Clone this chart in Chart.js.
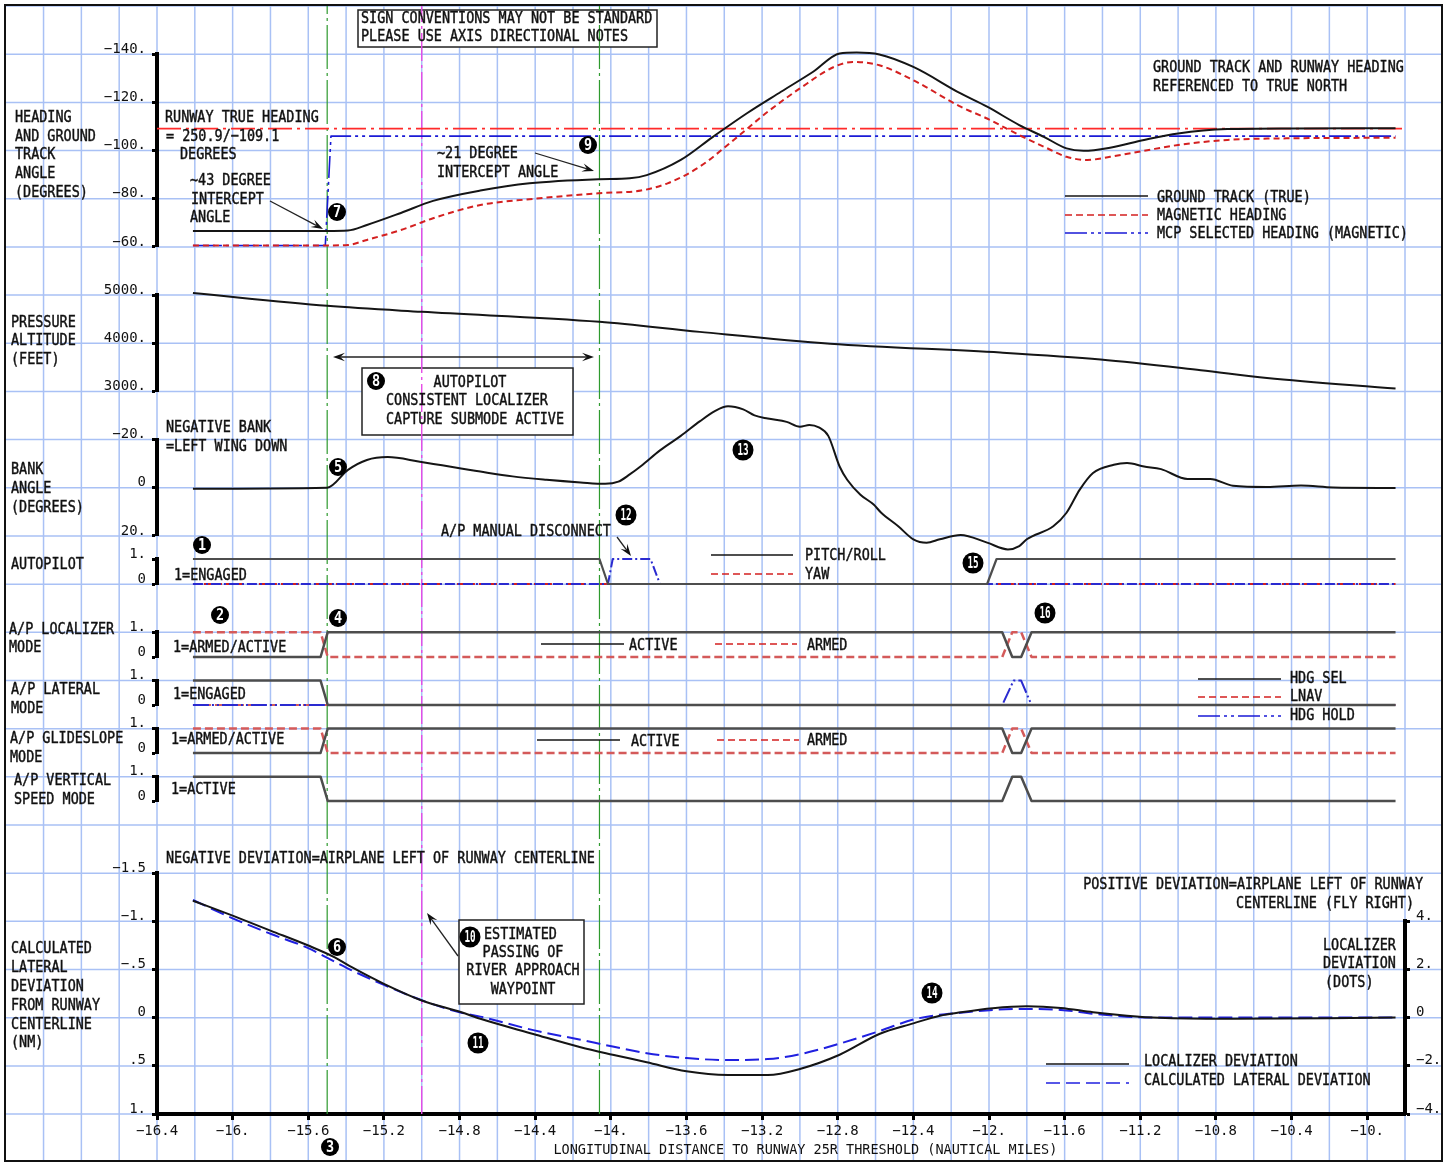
<!DOCTYPE html>
<html>
<head>
<meta charset="utf-8">
<title>Approach parameters vs distance to runway 25R</title>
<script src="https://cdn.jsdelivr.net/npm/chart.js@4.4.1/dist/chart.umd.min.js"></script>
<style>
  html, body { margin: 0; padding: 0; background: #fff; }
  #wrap { width: 1448px; height: 1162px; }
</style>
</head>
<body>
<div id="wrap"><canvas id="chart" width="1448" height="1162"></canvas></div>
<script>
// --- tick labels ---
const xTicks = [-16.4, -16, -15.6, -15.2, -14.8, -14.4, -14, -13.6, -13.2, -12.8, -12.4, -12, -11.6, -11.2, -10.8, -10.4, -10];
const hdgTicks = [-140, -120, -100, -80, -60];
const altTicks = [5000, 4000, 3000];
const bankTicks = [-20, 0, 20];
const modeTicks = [1, 0];
const devTicks = [-1.5, -1, -0.5, 0, 0.5, 1];
const dotTicks = [4, 2, 0, -2, -4];

// --- heading panel (degrees) ---
const trackX = [-16.21, -15.5, -15.39, -15.29, -15.11, -14.94, -14.69, -14.43, -14.06, -13.9, -13.81, -13.63, -13.46, -13.28, -13.1, -12.93, -12.79, -12.7, -12.58, -12.4, -12.15, -12.01, -11.84, -11.71, -11.59, -11.5, -11.36, -11.18, -11.0, -10.74, -10.39, -9.85];
const trackDeg = [-66.6, -66.6, -66.8, -69.1, -74.1, -79.1, -83.4, -86.4, -88.1, -88.5, -89.8, -96.1, -105.7, -115.5, -124.4, -132.7, -140.3, -140.7, -139.9, -134.7, -123.7, -118.2, -110.6, -105.7, -100.9, -99.9, -101.2, -104.4, -107.1, -108.9, -109.2, -109.3];
const magX = [-16.21, -15.5, -15.39, -15.29, -15.11, -14.94, -14.69, -14.43, -14.06, -13.84, -13.7, -13.53, -13.35, -13.17, -13.0, -12.82, -12.72, -12.58, -12.4, -12.15, -12.01, -11.84, -11.71, -11.59, -11.48, -11.36, -11.18, -11.0, -10.74, -10.39, -9.85];
const magDeg = [-60.6, -60.6, -60.8, -62.9, -67.0, -71.9, -77.4, -79.8, -82.3, -83.4, -86.4, -93.3, -104.4, -116.1, -125.8, -134.7, -136.8, -135.4, -129.2, -118.2, -113.3, -106.4, -101.6, -97.4, -96.1, -97.4, -99.9, -102.3, -104.4, -105.1, -105.3];
const mcpX = [-16.21, -15.51, -15.48, -9.85];
const mcpDeg = [-60.6, -60.6, -106, -106];
const rwyX = [-16.4, -9.8];
const rwyDeg = [-109.1, -109.1];

// --- pressure altitude (feet) ---
const altX = [-16.21, -15.5, -15.0, -14.06, -13.53, -12.84, -11.94, -11.41, -10.88, -10.53, -9.85];
const altFt = [5040, 4775, 4650, 4445, 4235, 3990, 3805, 3660, 3440, 3280, 3060];

// --- bank angle (degrees, negative = left wing down) ---
const bankX = [-16.21, -15.5, -15.39, -15.29, -15.18, -15.01, -14.69, -14.52, -14.34, -14.16, -14.03, -13.96, -13.9, -13.84, -13.74, -13.63, -13.53, -13.45, -13.38, -13.3, -13.24, -13.17, -13.07, -13.0, -12.95, -12.9, -12.85, -12.79, -12.75, -12.68, -12.61, -12.57, -12.48, -12.4, -12.33, -12.26, -12.15, -12.01, -11.9, -11.84, -11.8, -11.66, -11.59, -11.52, -11.45, -11.34, -11.27, -11.18, -11.09, -10.95, -10.83, -10.71, -10.53, -10.35, -10.18, -9.85];
const bankDeg = [0.4, 0, -7.4, -11.5, -12.7, -10.8, -6.7, -4.7, -3.3, -2.2, -1.6, -2.5, -5.5, -9, -15.5, -21.5, -27.5, -31.8, -33.8, -32.5, -30, -28.7, -27.3, -25.3, -26.0, -25.0, -21.5, -8.8, -3.3, 2.9, 7.0, 10.4, 16.0, 21.4, 22.8, 21.4, 19.6, 22.8, 25.6, 24.2, 21.4, 16.0, 10.4, 0.8, -6.1, -9.5, -10.2, -8.8, -7.7, -3.6, -3.6, -0.8, -0.3, -0.9, -0.1, 0.1];

// --- autopilot / mode discretes (0 or 1) ---
const apX = [-16.21, -14.06, -14.015, -12.01, -11.96, -9.85];
const apPitchRoll = [1, 1, 0, 0, 1, 1];
const yawX = [-16.21, -9.85];
const yawVal = [0, 0];
const apBlueX = [-16.21, -14.015, -13.99, -13.79, -13.74, -9.85];
const apBlueVal = [0, 0, 1, 1, 0, 0];

const modeX = [-16.21, -15.535, -15.497, -11.93, -11.877, -11.83, -11.775, -9.85];
const locActive = [0, 0, 1, 1, 0, 0, 1, 1];
const locArmed = [1, 1, 0, 0, 1, 1, 0, 0];
const gsActive = [0, 0, 1, 1, 0, 0, 1, 1];
const gsArmed = [1, 1, 0, 0, 1, 1, 0, 0];
const vsActive = [1, 1, 0, 0, 1, 1, 0, 0];

const hdgSelX = [-16.21, -15.535, -15.497, -9.85];
const hdgSelVal = [1, 1, 0, 0];
const lnavX = [-16.21, -9.85];
const lnavVal = [0, 0];
const hdgHoldX = [-16.21, -11.93, -11.87, -11.83, -11.775, -9.85];
const hdgHoldVal = [0, 0, 1, 1, 0, 0];

// --- lateral deviation ---
const devX = [-16.21, -16.0, -15.8, -15.6, -15.46, -15.37, -15.2, -15.0, -14.79, -14.69, -14.41, -14.16, -13.99, -13.81, -13.6, -13.38, -13.17, -13.0, -12.79, -12.58, -12.4, -12.26, -12.15, -11.98, -11.8, -11.62, -11.45, -11.27, -11.1, -10.74, -10.21, -9.85];
const locDots = [4.85, 4.23, 3.61, 2.99, 2.5, 2.09, 1.4, 0.71, 0.22, -0.05, -0.68, -1.23, -1.54, -1.85, -2.23, -2.38, -2.38, -2.13, -1.54, -0.68, -0.24, 0.08, 0.22, 0.39, 0.47, 0.4, 0.22, 0.08, -0.01, -0.05, -0.03, 0];
const calcNm = [-1.22, -1.03, -0.87, -0.72, -0.58, -0.49, -0.34, -0.18, -0.05, -0.01, 0.13, 0.23, 0.3, 0.37, 0.42, 0.44, 0.43, 0.38, 0.27, 0.14, 0.02, -0.03, -0.05, -0.08, -0.09, -0.08, -0.04, -0.01, 0, 0, 0, 0];

// --- event markers (distance, nm) ---
const markX = [-15.5, -15.0, -14.06];

const FONT = '"DejaVu Sans Mono", "Liberation Mono", monospace';
const INK = '#111';
const GREY = '#4d4d4d';
const MODE_RED = '#d45a5a';

function fmt(v) {
    if (v === 0) return '0';
    const s = Number.isInteger(v) ? String(v) + '.' : String(v).replace(/^(-?)0\./, '$1.');
    return s.replace('-', '\u2212');
}

function pts(xs, ys) {
    return xs.map((x, i) => ({ x, y: ys[i] }));
}

function series(label, xs, ys, yAxisID, color, width, dash, smooth) {
    return {
        label, data: pts(xs, ys), yAxisID,
        borderColor: color, borderWidth: width, borderDash: dash || [],
        pointRadius: 0, fill: false, clip: false, tension: 0,
        cubicInterpolationMode: smooth ? 'monotone' : 'default',
        borderJoinStyle: 'round'
    };
}

const datasets = [
    series('Ground track (true)', trackX, trackDeg, 'yHdg', '#151515', 2, null, true),
    series('Magnetic heading', magX, magDeg, 'yHdg', '#d42020', 2, [6, 4], true),
    series('MCP selected heading (magnetic)', mcpX, mcpDeg, 'yHdg', '#1a1ad6', 1.6, [22, 4, 3, 4, 3, 4]),
    series('Runway true heading', rwyX, rwyDeg, 'yHdg', '#ff2a2a', 1.6, [24, 5, 3, 5]),
    series('Pressure altitude', altX, altFt, 'yAlt', '#151515', 2, null, true),
    series('Bank angle', bankX, bankDeg, 'yBank', '#151515', 2, null, true),
    series('Pitch/roll', apX, apPitchRoll, 'yAp', GREY, 2.2),
    series('AP blue', apBlueX, apBlueVal, 'yAp', '#2a2ad0', 2, [10, 3, 2, 3]),
    series('Yaw', yawX, yawVal, 'yAp', '#d42020', 2, [7, 4]),
    series('Localizer active', modeX, locActive, 'yLoc', GREY, 2.5),
    series('Localizer armed', modeX, locArmed, 'yLoc', MODE_RED, 2.5, [8, 4]),
    series('HDG SEL', hdgSelX, hdgSelVal, 'yLat', GREY, 2.5),
    series('HDG HOLD', hdgHoldX, hdgHoldVal, 'yLat', '#2a2ad0', 2, [16, 3, 2, 3, 2, 3]),
    series('LNAV', lnavX, lnavVal, 'yLat', MODE_RED, 2, [7, 4]),
    series('Glideslope active', modeX, gsActive, 'yGs', GREY, 2.5),
    series('Glideslope armed', modeX, gsArmed, 'yGs', MODE_RED, 2.5, [8, 4]),
    series('Vertical speed', modeX, vsActive, 'yVs', GREY, 2.5),
    series('Localizer deviation', devX, locDots, 'yDots', '#151515', 2, null, true),
    series('Calculated lateral deviation', devX, calcNm, 'yDev', '#2020e0', 2, [14, 6], true),
    series('marker A', [markX[0], markX[0]], [0, 1], 'yFull', '#2e9a2e', 1.2, [44, 4, 3, 4]),
    series('marker B', [markX[1], markX[1]], [0, 1], 'yFull', '#e64ce6', 1.4, [28, 4, 3, 4]),
    series('marker C', [markX[2], markX[2]], [0, 1], 'yFull', '#2e9a2e', 1.2, [44, 4, 3, 4])
];

// --- axes: one stacked scale per panel, spacers fill the gaps ---
let order = 40;
function spacer(h, side) {
    return { axis: 'y', type: 'linear', display: false, position: side || 'left', stack: side || 'left',
             stackWeight: h, weight: side === 'right' ? 0 : order--, min: 0, max: 1 };
}
function panel(h, tickList, min, max, reverse, side) {
    const pos = side || 'left';
    return {
        axis: 'y', type: 'linear', position: pos, stack: pos, stackWeight: h,
        weight: pos === 'right' ? 1 : order--,
        min, max, reverse,
        afterBuildTicks: s => { s.ticks = tickList.map(v => ({ value: v })); },
        afterFit: s => { s.width = pos === 'left' ? 152 : 43; s.paddingTop = 0; s.paddingBottom = 0; },
        grid: { display: true, drawOnChartArea: false, tickLength: 5, tickWidth: 3, tickColor: '#000' },
        border: { display: true, width: 4, color: '#000' },
        ticks: { autoSkip: false, padding: 6, labelOffset: -5, color: INK,
                 font: { family: FONT, size: 14 }, callback: v => fmt(v) }
    };
}

const scales = {
    x: {
        type: 'linear', min: -16.4, max: -9.8,
        afterBuildTicks: s => { s.ticks = xTicks.map(v => ({ value: v })); },
        afterFit: s => { s.height = 48; s.paddingLeft = 0; s.paddingRight = 0; },
        grid: { display: true, drawOnChartArea: false, tickLength: 6, tickWidth: 3, tickColor: '#000' },
        border: { display: true, width: 4, color: '#000' },
        ticks: { autoSkip: false, maxRotation: 0, padding: 3, color: INK,
                 font: { family: FONT, size: 14 }, callback: v => fmt(v) },
        title: { display: true, color: INK, font: { family: FONT, size: 13.5 }, padding: { top: 0, bottom: 3 },
                 text: '\u00a0\u00a0\u00a0\u00a0\u00a0\u00a0LONGITUDINAL DISTANCE TO RUNWAY 25R THRESHOLD (NAUTICAL MILES)' }
    }
};
scales.s0 = spacer(48.2);
scales.yHdg = panel(192.7, hdgTicks, -140, -60, true);
scales.s1 = spacer(48.1);
scales.yAlt = panel(96.4, altTicks, 3000, 5000, false);
scales.s2 = spacer(48.1);
scales.yBank = panel(96.4, bankTicks, -20, 20, true);
scales.s3 = spacer(23.1);
scales.yAp = panel(25, modeTicks, 0, 1, false);
scales.s4 = spacer(48.2);
scales.yLoc = panel(24.8, modeTicks, 0, 1, false);
scales.s5 = spacer(23.6);
scales.yLat = panel(24.4, modeTicks, 0, 1, false);
scales.s6 = spacer(23.5);
scales.yGs = panel(24.5, modeTicks, 0, 1, false);
scales.s7 = spacer(23.7);
scales.yVs = panel(24.3, modeTicks, 0, 1, false);
scales.s8 = spacer(72);
scales.yDev = panel(241, devTicks, -1.5, 1, true);
scales.r0 = spacer(915.2, 'right');
scales.yDots = panel(192.8, dotTicks, -4, 4, false, 'right');
scales.yFull = { axis: 'y', type: 'linear', display: false, position: 'left', weight: -1, min: 0, max: 1 };

// --- drawing helpers for the notes ---
function say(ctx, str, x, y, align) {
    ctx.save();
    ctx.font = '16px ' + FONT;
    ctx.fillStyle = INK;
    ctx.strokeStyle = INK;
    ctx.lineWidth = 0.45;
    ctx.textBaseline = 'middle';
    ctx.textAlign = align || 'left';
    ctx.translate(x, y);
    ctx.scale(0.84, 1);
    ctx.fillText(str, 0, 0);
    ctx.strokeText(str, 0, 0);
    ctx.restore();
}

function badge(ctx, n, x, y) {
    const two = n > 9;
    ctx.save();
    ctx.fillStyle = '#000';
    ctx.beginPath();
    ctx.ellipse(x, y, two ? 10.5 : 9, two ? 10.5 : 9, 0, 0, Math.PI * 2);
    ctx.fill();
    ctx.fillStyle = '#fff';
    ctx.font = 'bold 15px ' + FONT;
    ctx.textAlign = 'center';
    ctx.textBaseline = 'middle';
    ctx.translate(x, y + 1);
    ctx.scale(two ? 0.62 : 0.9, 1);
    ctx.fillText(String(n), 0, 0);
    ctx.restore();
}

function arrow(ctx, x1, y1, x2, y2, size) {
    const a = Math.atan2(y2 - y1, x2 - x1);
    const s = size || 12;
    const c = Math.cos(a), sn = Math.sin(a);
    ctx.save();
    ctx.strokeStyle = '#222';
    ctx.fillStyle = '#111';
    ctx.lineWidth = 1.3;
    ctx.beginPath();
    ctx.moveTo(x1, y1);
    ctx.lineTo(x2 - s * 0.6 * c, y2 - s * 0.6 * sn);
    ctx.stroke();
    ctx.beginPath();
    ctx.moveTo(x2, y2);
    ctx.lineTo(x2 - s * c + s * 0.35 * sn, y2 - s * sn - s * 0.35 * c);
    ctx.lineTo(x2 - s * 0.6 * c, y2 - s * 0.6 * sn);
    ctx.lineTo(x2 - s * c - s * 0.35 * sn, y2 - s * sn + s * 0.35 * c);
    ctx.closePath();
    ctx.fill();
    ctx.restore();
}

function sample(ctx, x1, x2, y, color, dash, w) {
    ctx.save();
    ctx.strokeStyle = color;
    ctx.lineWidth = w || 1.5;
    ctx.setLineDash(dash || []);
    ctx.beginPath();
    ctx.moveTo(x1, y);
    ctx.lineTo(x2, y);
    ctx.stroke();
    ctx.restore();
}

function box(ctx, x, y, w, h) {
    ctx.save();
    ctx.fillStyle = '#fff';
    ctx.fillRect(x, y, w, h);
    ctx.strokeStyle = '#222';
    ctx.lineWidth = 1.5;
    ctx.strokeRect(x, y, w, h);
    ctx.restore();
}

const notes = [
    ['HEADING', 15, 118], ['AND GROUND', 15, 137], ['TRACK', 15, 155], ['ANGLE', 15, 174], ['(DEGREES)', 15, 193],
    ['PRESSURE', 11, 323], ['ALTITUDE', 11, 341], ['(FEET)', 11, 360],
    ['BANK', 11, 470], ['ANGLE', 11, 489], ['(DEGREES)', 11, 508],
    ['AUTOPILOT', 11, 565],
    ['A/P LOCALIZER', 9, 630], ['MODE', 9, 648],
    ['A/P LATERAL', 11, 690], ['MODE', 11, 709],
    ['A/P GLIDESLOPE', 10, 739], ['MODE', 10, 758],
    ['A/P VERTICAL', 14, 781], ['SPEED MODE', 14, 800],
    ['CALCULATED', 11, 949], ['LATERAL', 11, 968], ['DEVIATION', 11, 987], ['FROM RUNWAY', 11, 1006], ['CENTERLINE', 11, 1025], ['(NM)', 11, 1043],
    ['RUNWAY TRUE HEADING', 165, 118], ['= 250.9/\u2212109.1', 166, 137], ['DEGREES', 180, 155],
    ['~43 DEGREE', 190, 181], ['INTERCEPT', 191, 200], ['ANGLE', 190, 218],
    ['~21 DEGREE', 437, 154], ['INTERCEPT ANGLE', 437, 173],
    ['SIGN CONVENTIONS MAY NOT BE STANDARD', 361, 19], ['PLEASE USE AXIS DIRECTIONAL NOTES', 361, 37],
    ['GROUND TRACK AND RUNWAY HEADING', 1153, 68], ['REFERENCED TO TRUE NORTH', 1153, 87],
    ['GROUND TRACK (TRUE)', 1157, 198], ['MAGNETIC HEADING', 1157, 216], ['MCP SELECTED HEADING (MAGNETIC)', 1157, 234],
    ['AUTOPILOT', 470, 383, 'center'], ['CONSISTENT LOCALIZER', 386, 401], ['CAPTURE SUBMODE ACTIVE', 386, 420],
    ['NEGATIVE BANK', 166, 428], ['=LEFT WING DOWN', 166, 447],
    ['A/P MANUAL DISCONNECT', 441, 532],
    ['1=ENGAGED', 174, 576], ['PITCH/ROLL', 805, 556], ['YAW', 805, 575],
    ['1=ARMED/ACTIVE', 173, 648], ['ACTIVE', 629, 646], ['ARMED', 807, 646],
    ['1=ENGAGED', 173, 695], ['HDG SEL', 1290, 679], ['LNAV', 1290, 697], ['HDG HOLD', 1290, 716],
    ['1=ARMED/ACTIVE', 171, 740], ['ACTIVE', 631, 742], ['ARMED', 807, 741],
    ['1=ACTIVE', 171, 790],
    ['NEGATIVE DEVIATION=AIRPLANE LEFT OF RUNWAY CENTERLINE', 166, 859],
    ['POSITIVE DEVIATION=AIRPLANE LEFT OF RUNWAY', 1423, 885, 'right'], ['CENTERLINE (FLY RIGHT)', 1414, 904, 'right'],
    ['LOCALIZER', 1323, 946], ['DEVIATION', 1323, 964], ['(DOTS)', 1325, 983],
    ['LOCALIZER DEVIATION', 1144, 1062], ['CALCULATED LATERAL DEVIATION', 1144, 1081],
    ['ESTIMATED', 484, 935], ['PASSING OF', 523, 953, 'center'], ['RIVER APPROACH', 523, 971, 'center'], ['WAYPOINT', 523, 990, 'center']
];

const badges = [[1, 202, 545], [2, 220, 615], [3, 330, 1147], [4, 338, 618], [5, 338, 467], [6, 337, 947],
    [7, 337, 212], [8, 376, 381], [9, 588, 145], [10, 470, 937], [11, 478, 1043], [12, 626, 515],
    [13, 743, 450], [14, 932, 993], [15, 973, 563], [16, 1045, 613]];

const decor = {
    id: 'decor',
    beforeDraw(chart) {
        const { ctx } = chart;
        const x = chart.scales.x, yHdg = chart.scales.yHdg;
        ctx.save();
        ctx.fillStyle = '#fff';
        ctx.fillRect(0, 0, chart.width, chart.height);
        // graph-paper grid over the whole sheet
        ctx.strokeStyle = '#a9c1f5';
        ctx.lineWidth = 1.5;
        const y0 = yHdg.getPixelForValue(hdgTicks[0]);
        const step = yHdg.getPixelForValue(hdgTicks[1]) - y0;
        for (let k = -1; k <= 23; k++) {
            const y = y0 + k * step;
            if (y < 5 || y > 1161) continue;
            ctx.beginPath(); ctx.moveTo(5, y); ctx.lineTo(1442, y); ctx.stroke();
        }
        for (let k = 0; k <= 36; k++) {
            const px = x.getPixelForValue(-17 + k * 0.2);
            ctx.beginPath(); ctx.moveTo(px, 5); ctx.lineTo(px, 1161); ctx.stroke();
        }
        ctx.restore();
    },
    beforeDatasetsDraw(chart) {
        const { ctx } = chart;
        box(ctx, 358, 10, 299, 37);
        box(ctx, 362, 368, 211, 67);
        box(ctx, 459, 920, 125, 84);
    },
    afterDraw(chart) {
        const { ctx } = chart;
        notes.forEach(n => say(ctx, n[0], n[1], n[2], n[3]));
        badges.forEach(b => badge(ctx, b[0], b[1], b[2]));

        arrow(ctx, 270, 201, 323, 229);
        arrow(ctx, 535, 153, 594, 171);
        arrow(ctx, 458, 956, 427, 913);
        arrow(ctx, 617, 537, 631, 556);
        arrow(ctx, 463, 357, 333, 357);
        arrow(ctx, 463, 357, 594, 357);

        // legend samples
        sample(ctx, 1065, 1148, 196, '#151515', null, 1.5);
        sample(ctx, 1065, 1148, 215, '#d42020', [7, 4], 1.5);
        sample(ctx, 1065, 1148, 233, '#1a1ad6', [22, 4, 3, 4, 3, 4], 1.5);
        sample(ctx, 711, 793, 555, '#151515', null, 1.5);
        sample(ctx, 711, 793, 574, '#d42020', [7, 4], 1.5);
        sample(ctx, 541, 624, 644, '#151515', null, 1.5);
        sample(ctx, 715, 797, 644, '#d42020', [7, 4], 1.5);
        sample(ctx, 1198, 1281, 679, '#151515', null, 1.5);
        sample(ctx, 1198, 1281, 697, '#d42020', [7, 4], 1.5);
        sample(ctx, 1198, 1281, 716, '#1a1ad6', [22, 4, 3, 4, 3, 4], 1.5);
        sample(ctx, 537, 620, 740, '#151515', null, 1.5);
        sample(ctx, 717, 799, 740, '#d42020', [7, 4], 1.5);
        sample(ctx, 1046, 1129, 1064, '#151515', null, 1.5);
        sample(ctx, 1046, 1129, 1083, '#2020e0', [14, 6], 1.5);

        // sheet frame
        ctx.save();
        ctx.strokeStyle = '#111';
        ctx.lineWidth = 2;
        ctx.strokeRect(5, 5, 1437, 1156);
        ctx.restore();
    }
};

new Chart(document.getElementById('chart'), {
    type: 'line',
    data: { datasets },
    options: {
        responsive: false,
        animation: false,
        layout: { padding: { left: 5, top: 6, right: 0, bottom: 0 } },
        plugins: { legend: { display: false }, tooltip: { enabled: false } },
        scales
    },
    plugins: [decor]
});
</script>
</body>
</html>
